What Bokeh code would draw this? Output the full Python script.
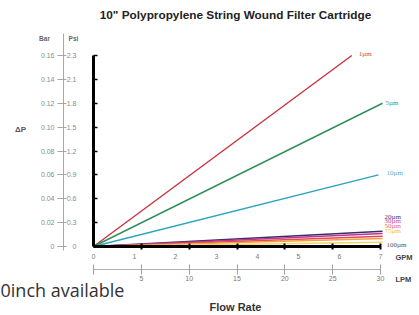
import math
from bokeh.plotting import figure
from bokeh.models import (Range1d, LinearAxis, FixedTicker, Label, LabelSet,
                          ColumnDataSource)
from bokeh.embed import file_html
from bokeh.resources import INLINE

# ---------------- data ----------------
title_text = '10" Polypropylene String Wound Filter Cartridge'
grades = ["1µm", "5µm", "10µm", "20µm", "30µm", "50µm", "75µm", "100µm"]
flow_end_gpm = [6.30, 7.05, 6.95, 7.05, 7.05, 7.05, 7.05, 7.05]
dp_end_bar = [0.160, 0.120, 0.060, 0.0128, 0.0109, 0.0086, 0.0067, 0.0036]

bar_ticks = [0, 0.02, 0.04, 0.06, 0.08, 0.10, 0.12, 0.14, 0.16]
bar_labels = ["0", "0.02", "0.04", "0.06", "0.08", "0.10", "0.12", "0.14", "0.16"]
psi_labels = ["0", "0.3", "0.6", "0.9", "1.2", "1.5", "1.8", "2.1", "2.3"]
gpm_ticks = [0, 1, 2, 3, 4, 5, 6, 7]
lpm_ticks = [0, 5, 10, 15, 20, 25, 30]

# ---------------- layout helpers (pixel -> data) ----------------
W, H = 419, 315
X0, PX_GPM = 93, 41.0          # x of 0 GPM, px per GPM
Y0, PX_BAR = 246, 191 / 0.16   # y of 0 bar, px per bar
PX_LPM = 287 / 30.0


def gx(px):
    return (px - X0) / PX_GPM


def by(py):
    return (Y0 - py) / PX_BAR


def lx(px):
    return (px - X0) / PX_LPM


# ---------------- styles ----------------
line_colors = ["#c8323e", "#2f8f5c", "#2da3bf", "#33306e", "#c2338c",
               "#e2475f", "#f0a33a", "#f3d46a"]
label_colors = ["#d8434c", "#3a9a66", "#4fb0d6", "#3f3a80", "#d545a6",
                "#ec6585", "#f1c247", "#555555"]
label_dx = [7, 3, 8, 2, 2, 2, 2, 4]
label_dy = [2, 0, 2, 14, 12, 10, 8, -3]
FONT = "Liberation Sans"

p = figure(width=W, height=H, output_backend="svg", toolbar_location=None,
           x_range=Range1d(gx(0), gx(W)), y_range=Range1d(by(H), by(0)),
           x_axis_type=None, y_axis_type=None, min_border=0)
p.extra_x_ranges = {"lpm": Range1d(lx(0), lx(W))}
p.title.visible = False
p.outline_line_color = None
p.background_fill_color = "white"
p.border_fill_color = "white"

# ---- left axes ----
psi_ax = LinearAxis(fixed_location=0, ticker=FixedTicker(ticks=bar_ticks),
                    major_label_overrides=dict(zip(bar_ticks, psi_labels)),
                    bounds=(0, 0.16), axis_line_width=3, axis_line_color="black",
                    major_tick_in=4, major_tick_out=0, major_tick_line_width=1.5,
                    minor_tick_line_color=None, major_label_standoff=17,
                    major_label_text_font=FONT, major_label_text_font_size="7px",
                    major_label_text_color="#8a8a8a")
p.add_layout(psi_ax, "left")
bar_ax = LinearAxis(fixed_location=gx(63), ticker=FixedTicker(ticks=bar_ticks),
                    major_label_overrides=dict(zip(bar_ticks, bar_labels)),
                    bounds=(by(250), by(33)),
                    axis_line_color="#a8a8a8", major_tick_line_color="#a8a8a8",
                    major_tick_in=3, major_tick_out=6,
                    minor_tick_line_color=None, major_label_standoff=3,
                    major_label_text_font=FONT, major_label_text_font_size="7px",
                    major_label_text_color="#8a8a8a")
p.add_layout(bar_ax, "left")

# ---- bottom axes ----
base_ax = LinearAxis(x_range_name="lpm", fixed_location=0,
                     ticker=FixedTicker(ticks=[], minor_ticks=lpm_ticks[1:]),
                     bounds=(0, 30), axis_line_width=3, axis_line_color="black",
                     minor_tick_in=3, minor_tick_out=3, minor_tick_line_width=2,
                     minor_tick_line_color="black")
p.add_layout(base_ax, "below")
gpm_ax = LinearAxis(fixed_location=0, ticker=FixedTicker(ticks=gpm_ticks),
                    axis_line_color=None, major_tick_line_color=None,
                    major_tick_in=0, major_tick_out=0, minor_tick_line_color=None,
                    major_label_standoff=7, major_label_text_font=FONT,
                    major_label_text_font_size="7px",
                    major_label_text_color="#777777")
p.add_layout(gpm_ax, "below")
lpm_ax = LinearAxis(x_range_name="lpm", fixed_location=by(269),
                    ticker=FixedTicker(ticks=lpm_ticks[1:], minor_ticks=lpm_ticks[:1]),
                    bounds=(0, 30),
                    axis_line_color="#b0b0b0", major_tick_line_color="#a0a0a0",
                    minor_tick_line_color="#a0a0a0",
                    major_tick_in=5, major_tick_out=5, minor_tick_in=5,
                    minor_tick_out=5, major_label_standoff=1,
                    major_label_text_font=FONT, major_label_text_font_size="7px",
                    major_label_text_color="#777777")
p.add_layout(lpm_ax, "below")

# ---- lines ----
for xe, ye, c in zip(flow_end_gpm, dp_end_bar, line_colors):
    p.line([0, xe], [0, ye], line_color=c, line_width=1.4)

src = ColumnDataSource(dict(x=flow_end_gpm, y=dp_end_bar, t=grades,
                            c=label_colors, dx=label_dx, dy=label_dy))
p.add_layout(LabelSet(x="x", y="y", text="t", source=src, x_offset="dx",
                      y_offset="dy", text_color="c", text_font=FONT,
                      text_font_size="7px", text_baseline="middle"))


# ---- annotation texts ----
def lab(px, py, t, size, color, bold=False, align="center", font=FONT,
        baseline="middle"):
    p.add_layout(Label(x=gx(px), y=by(py), text=t, text_font=font,
                       text_font_size=size, text_color=color, text_align=align,
                       text_baseline=baseline,
                       text_font_style="bold" if bold else "normal"))


lab(235, 14, title_text, "11.8px", "#222222", bold=True)
lab(44, 38, "Bar", "6.5px", "#666666", bold=True)
lab(73, 38, "Psi", "6.5px", "#666666", bold=True)
lab(20, 129, "ΔP", "8px", "#555555", bold=True)
lab(395, 257, "GPM", "7.5px", "#444444", bold=True, align="left")
lab(395, 279, "LPM", "7.5px", "#444444", bold=True, align="left")
lab(235, 306, "Flow Rate", "11px", "#333333", bold=True, baseline="alphabetic")
lab(0, 289, "0inch available", "18px", "#333333", align="left",
    font="Open Sans", baseline="alphabetic")

open("out.html", "w").write(file_html(p, INLINE))
